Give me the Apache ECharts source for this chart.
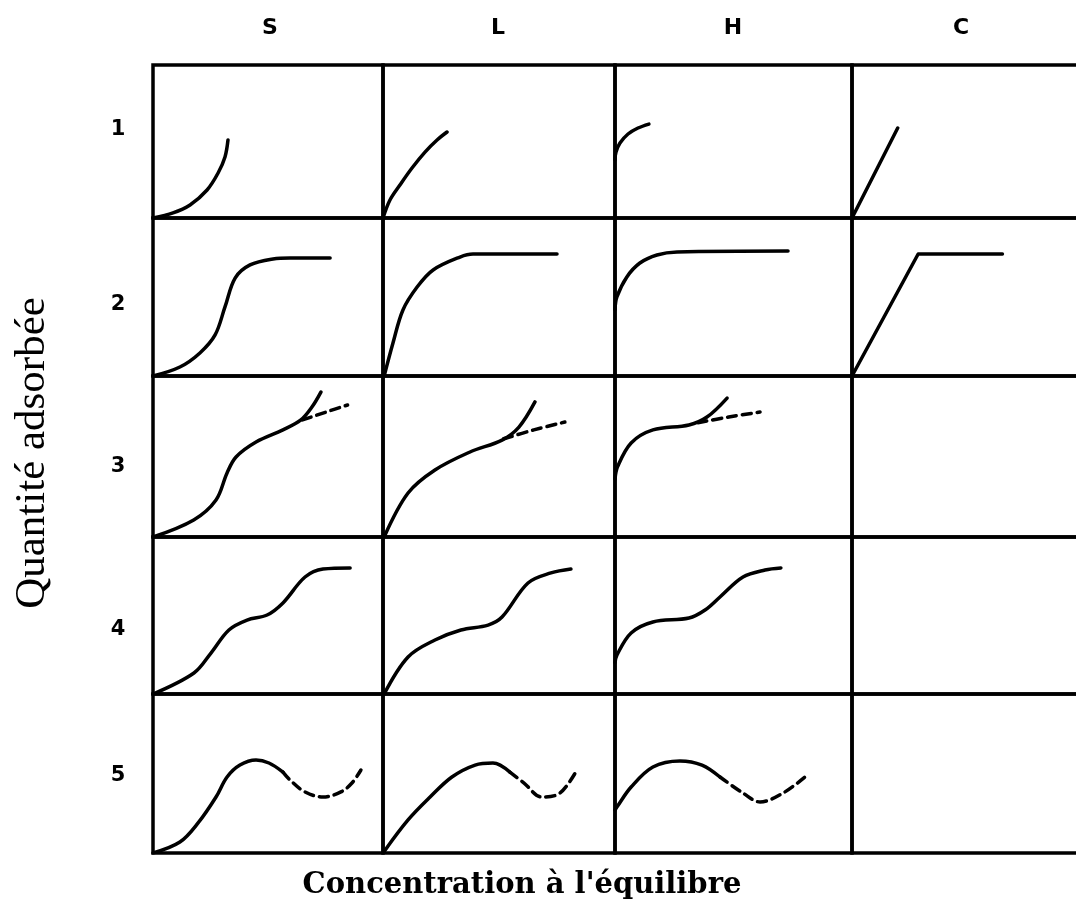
<!DOCTYPE html>
<html>
<head>
<meta charset="utf-8">
<script src="https://cdn.jsdelivr.net/npm/echarts@6/dist/echarts.min.js"></script>
<style>
  html, body { margin: 0; padding: 0; background: #fff; overflow: hidden; }
  #chart { width: 1110px; height: 906px; }
</style>
</head>
<body>
<div id="chart"></div>
<script>
// isotherm classes (columns) and sub-groups (rows)
const columns = ['S', 'L', 'H', 'C']
const rows = ['1', '2', '3', '4', '5']

// curves, [concentration %, adsorbed %] inside each panel
const S1 = [[0, 0], [8.7, 3.3], [16.1, 8.5], [23.5, 18.3], [28.3, 29.4], [31.3, 39.9], [32.6, 51]]
const L1 = [[0, 0], [3, 11.8], [7.3, 21.6], [12.5, 32.7], [18.1, 43.1], [23.3, 51], [27.6, 56.2]]
const H1 = [[0, 38], [0.4, 43], [2.1, 49], [5.5, 54.9], [9.7, 58.8], [14.3, 61.4]]
const C1 = [[0, 0], [19.2, 58.8]]

const S2 = [[0, 0], [11.7, 5.7], [20.4, 14.6], [27, 26], [31.3, 43.7], [35.7, 62], [42.2, 70.3], [52.2, 74.1], [59.6, 74.7], [77, 74.7]]
const L2 = [[0.5, 0], [4.3, 20.9], [8.6, 41.8], [14.7, 56.3], [21.6, 67.1], [33.2, 75.3], [38.8, 77.2], [75, 77.2]]
const H2 = [[0, 42], [0.8, 50], [5, 62.7], [10.5, 71.5], [17.7, 76.6], [26.2, 78.5], [73, 79.1]]
const C2 = [[0, 0], [27.8, 77.2], [63.2, 77.2]]

const S3 = [[0, 0], [17.7, 10.6], [27.4, 23], [32.2, 39.8], [36.1, 49.7], [44.8, 59], [56.5, 66.5], [64.3, 72.7], [69.1, 80.7], [73, 90]]
const S3dash = [[65, 72.7], [75, 77.5], [84.6, 82]]
const L3 = [[0.5, 0], [10.8, 27.3], [22.4, 41.6], [37.5, 52.8], [51.3, 60.2], [58.6, 68.3], [65.5, 83.9]]
const L3dash = [[52, 61], [65, 66.5], [78.4, 71.4]]
const H3 = [[0, 36], [1.1, 43.7], [6.8, 58.4], [16, 66.5], [31.2, 69.6], [38.8, 74.5], [47.3, 86.3]]
const H3dash = [[35, 71], [48, 74.5], [61.2, 77.6]]

const S4 = [[0, 0], [17.8, 13.4], [25.2, 26.1], [33, 40.8], [40.9, 47.1], [49.6, 50.3], [56.5, 58], [66.1, 74.5], [73.9, 79.6], [85.7, 80.3]]
const L4 = [[0.5, 0], [10.8, 23.6], [22.4, 34.4], [33.6, 40.8], [45.3, 43.9], [51.3, 49], [62.5, 70.7], [72.4, 77.1], [81, 79.6]]
const H4 = [[0, 20], [0.8, 24.8], [6.8, 38.9], [16, 45.9], [31.2, 48.4], [38, 53.5], [44.3, 61.8], [54, 74.5], [63.3, 79], [70, 80.3]]

const S5 = [[0, 0], [11.7, 6.9], [19.6, 18.9], [27.4, 35.2], [32.2, 47.8], [37.8, 55.3], [44.8, 58.5], [50.4, 56.6], [56.5, 50.9]]
const S5dash = [[56.5, 50.9], [59.6, 45.9], [66.1, 38.4], [73.9, 35.2], [81.7, 38.4], [86.5, 44], [90.4, 52.2]]
const L5 = [[0.5, 1], [10.8, 20.8], [20.3, 35.2], [29.7, 47.8], [39.7, 55.3], [47.4, 56.6], [54.7, 50.9]]
const L5dash = [[54.7, 50.9], [60.8, 44], [68.5, 35.2], [76.3, 37.7], [83.6, 52.2]]
const H5 = [[0, 27], [0.8, 28.9], [6.8, 41.5], [16, 54.1], [27.4, 57.9], [36.7, 55.3], [44.3, 47.8]]
const H5dash = [[44.3, 47.8], [54, 37.7], [61.2, 32.1], [70.9, 37.7], [80.2, 47.8]]

// panel layout (pixels); the right column runs past the window edge
const colEdges = [153, 383, 615, 852, 1090]
const rowEdges = [65, 218, 376, 537, 694, 853]

const panels = [
  { row: 0, col: 0, solid: [S1] },
  { row: 0, col: 1, solid: [L1] },
  { row: 0, col: 2, solid: [H1] },
  { row: 0, col: 3, solid: [C1], straight: true },
  { row: 1, col: 0, solid: [S2] },
  { row: 1, col: 1, solid: [L2] },
  { row: 1, col: 2, solid: [H2] },
  { row: 1, col: 3, solid: [C2], straight: true },
  { row: 2, col: 0, solid: [S3], dashed: [S3dash] },
  { row: 2, col: 1, solid: [L3], dashed: [L3dash] },
  { row: 2, col: 2, solid: [H3], dashed: [H3dash] },
  { row: 2, col: 3, solid: [] },
  { row: 3, col: 0, solid: [S4] },
  { row: 3, col: 1, solid: [L4] },
  { row: 3, col: 2, solid: [H4] },
  { row: 3, col: 3, solid: [] },
  { row: 4, col: 0, solid: [S5], dashed: [S5dash] },
  { row: 4, col: 1, solid: [L5], dashed: [L5dash] },
  { row: 4, col: 2, solid: [H5], dashed: [H5dash] },
  { row: 4, col: 3, solid: [] },
]

const grid = []
const xAxis = []
const yAxis = []
const series = []

panels.forEach((p, i) => {
  grid.push({
    left: colEdges[p.col],
    top: rowEdges[p.row],
    width: colEdges[p.col + 1] - colEdges[p.col],
    height: rowEdges[p.row + 1] - rowEdges[p.row],
    show: true,
    borderColor: '#000',
    borderWidth: 3.5,
    backgroundColor: 'transparent',
  })
  const hidden = { show: false, splitLine: { show: false } }
  xAxis.push({ type: 'value', gridIndex: i, min: 0, max: 100, ...hidden })
  yAxis.push({ type: 'value', gridIndex: i, min: 0, max: 100, ...hidden })

  const addLine = (data, dashed) => {
    series.push({
      type: 'line',
      xAxisIndex: i,
      yAxisIndex: i,
      data,
      smooth: p.straight ? false : 0.35,
      showSymbol: false,
      silent: true,
      clip: true,
      lineStyle: {
        color: '#000',
        width: 3.5,
        type: dashed ? [9, 6] : 'solid',
        cap: 'round',
        join: 'round',
      },
    })
  }
  p.solid.forEach(d => addLine(d, false))
  ;(p.dashed || []).forEach(d => addLine(d, true))
})

const colTitleX = [270, 498, 733, 961]
const colTitleY = 28
const rowLabelX = 118
const rowLabelY = [130, 305, 467, 630, 776]

const graphic = [
  ...columns.map((c, i) => ({
    type: 'text',
    x: colTitleX[i],
    y: colTitleY,
    style: {
      text: c,
      font: 'bold 22px "DejaVu Sans", sans-serif',
      fill: '#000',
      textAlign: 'center',
      textVerticalAlign: 'middle',
    },
  })),
  ...rows.map((r, i) => ({
    type: 'text',
    x: rowLabelX,
    y: rowLabelY[i],
    style: {
      text: r,
      font: 'bold 21px "DejaVu Sans", sans-serif',
      fill: '#000',
      textAlign: 'center',
      textVerticalAlign: 'middle',
    },
  })),
  {
    type: 'text',
    x: 33,
    y: 453,
    rotation: Math.PI / 2,
    style: {
      text: 'Quantité adsorbée',
      font: '43px "Liberation Serif", serif',
      fill: '#000',
      textAlign: 'center',
      textVerticalAlign: 'middle',
    },
  },
  {
    type: 'text',
    x: 522,
    y: 885,
    style: {
      text: "Concentration à l'équilibre",
      font: 'bold 29px "DejaVu Serif", serif',
      fill: '#000',
      textAlign: 'center',
      textVerticalAlign: 'middle',
    },
  },
]

const chart = echarts.init(document.getElementById('chart'), null, { renderer: 'canvas' })
chart.setOption({
  animation: false,
  backgroundColor: '#fff',
  grid,
  xAxis,
  yAxis,
  series,
  graphic,
})
</script>
</body>
</html>
